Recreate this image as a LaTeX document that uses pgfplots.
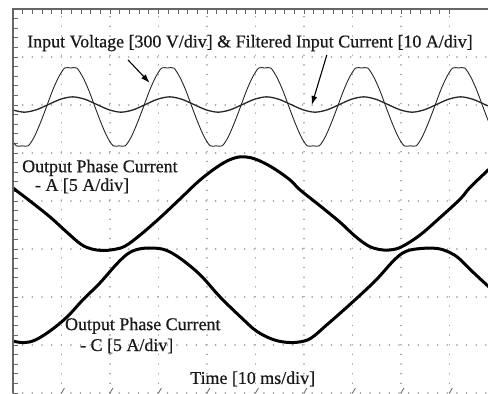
\documentclass[border=0pt]{standalone}
\usepackage{pgfplots}
\pgfplotsset{compat=1.18}
\usepackage{pgfplotstable}
\usepackage{fontspec}
\setmainfont{Liberation Serif}
\newfontfamily\labelfont{Liberation Serif}[FakeBold=0.6]
\usetikzlibrary{arrows.meta}

% Input voltage (x in div, y in div)
\pgfplotstableread{
x y
-0.060 5.34
0.065 5.15
0.190 5.15
0.315 5.15
0.440 5.34
0.565 5.63
0.690 5.96
0.815 6.30
0.940 6.58
1.065 6.77
1.190 6.77
1.315 6.77
1.440 6.58
1.565 6.30
1.690 5.96
1.815 5.63
1.940 5.34
2.065 5.15
2.190 5.15
2.315 5.15
2.440 5.34
2.565 5.63
2.690 5.96
2.815 6.30
2.940 6.58
3.065 6.77
3.190 6.77
3.315 6.77
3.440 6.58
3.565 6.30
3.690 5.96
3.815 5.63
3.940 5.34
4.065 5.15
4.190 5.15
4.315 5.15
4.440 5.34
4.565 5.63
4.690 5.96
4.815 6.30
4.940 6.58
5.065 6.77
5.190 6.77
5.315 6.77
5.440 6.58
5.565 6.30
5.690 5.96
5.815 5.63
5.940 5.34
6.065 5.15
6.190 5.15
6.315 5.15
6.440 5.34
6.565 5.63
6.690 5.96
6.815 6.30
6.940 6.58
7.065 6.77
7.190 6.77
7.315 6.77
7.440 6.58
7.565 6.30
7.690 5.96
7.815 5.63
7.940 5.34
8.065 5.15
8.190 5.15
8.315 5.15
8.440 5.34
8.565 5.63
8.690 5.96
8.815 6.30
8.940 6.58
9.065 6.77
9.190 6.77
9.315 6.77
9.440 6.58
9.565 6.30
9.690 5.96
9.815 5.63
9.940 5.34
}\voltage

% Filtered input current
\pgfplotstableread{
x y
-0.020 5.90
0.230 5.85
0.480 5.90
0.730 6.01
0.980 6.12
1.230 6.17
1.480 6.12
1.730 6.01
1.980 5.90
2.230 5.85
2.480 5.90
2.730 6.01
2.980 6.12
3.230 6.17
3.480 6.12
3.730 6.01
3.980 5.90
4.230 5.85
4.480 5.90
4.730 6.01
4.980 6.12
5.230 6.17
5.480 6.12
5.730 6.01
5.980 5.90
6.230 5.85
6.480 5.90
6.730 6.01
6.980 6.12
7.230 6.17
7.480 6.12
7.730 6.01
7.980 5.90
8.230 5.85
8.480 5.90
8.730 6.01
8.980 6.12
9.230 6.17
9.480 6.12
9.730 6.01
9.980 5.90
}\incurrent

% Output phase current A
\pgfplotstableread{
x y
0.00 4.27
0.35 4.00
0.76 3.67
1.11 3.35
1.40 3.10
1.62 3.00
1.85 2.97
2.08 2.99
2.31 3.06
2.62 3.29
3.03 3.65
3.44 4.04
3.86 4.44
4.27 4.75
4.55 4.89
4.78 4.92
5.03 4.86
5.36 4.69
5.71 4.44
5.92 4.23
6.33 3.90
6.74 3.56
7.05 3.27
7.32 3.07
7.55 2.99
7.78 2.98
8.02 3.05
8.39 3.29
8.80 3.65
9.22 4.04
9.42 4.28
9.77 4.62
9.85 4.70
}\outA

% Output phase current C
\pgfplotstableread{
x y
0.00 1.08
0.22 1.05
0.45 1.10
0.76 1.29
1.11 1.58
1.44 1.94
1.79 2.29
2.14 2.69
2.38 2.91
2.60 3.00
2.87 3.02
3.14 2.98
3.44 2.81
3.86 2.46
4.27 2.00
4.76 1.52
5.02 1.29
5.32 1.13
5.60 1.06
5.88 1.06
6.14 1.14
6.47 1.42
6.82 1.73
7.18 2.06
7.51 2.38
7.86 2.77
8.10 2.95
8.41 3.01
8.75 3.01
9.00 2.93
9.20 2.80
9.44 2.56
9.77 2.25
9.85 2.18
}\outC

\begin{document}
\begin{tikzpicture}
\useasboundingbox (0,0) rectangle (488bp,394bp);
\begin{axis}[
  at={(13bp,1bp)}, anchor=south west,
  scale only axis, width=475bp, height=384bp,
  xmin=0, xmax=9.794, ymin=0, ymax=8,
  xtick={0,...,9}, ytick={0,...,8},
  minor x tick num=4, minor y tick num=4,
  xticklabels={}, yticklabels={},
  xtick pos=right, ytick pos=left,
  tick align=inside,
  major tick length=5bp, minor tick length=5bp,
  every tick/.style={black!60, line width=0.8bp},
  grid=major,
  major grid style={black!38, line width=1.7bp, line cap=round, dash pattern=on 0.01bp off 9.64bp},
  axis line style={draw=none},
  clip mode=individual,
]
\addplot[black!85, line width=0.9bp, smooth, tension=0.5] table {\voltage};
\addplot[black!85, line width=1.3bp, smooth, tension=0.5] table {\incurrent};
\addplot[black, line width=3bp, smooth, tension=0.6] table {\outA};
\addplot[black, line width=3bp, smooth, tension=0.6] table {\outC};

\draw[black!60, line width=1.5bp] (axis cs:0,0) -- (axis cs:0,8) -- (axis cs:9.794,8);
\pgfplotsinvokeforeach{1,...,9}{\draw[black!60, line width=0.8bp] (axis cs:#1,0) -- ++(0,5bp);}

\draw[-{Latex[length=9bp,width=6bp]}, line width=1.1bp] (axis cs:2.37,6.94) -- (axis cs:2.82,6.46);
\draw[-{Latex[length=9bp,width=6bp]}, line width=1.1bp] (axis cs:6.47,7.04) -- (axis cs:6.16,6.00);

\tikzset{lbl/.style={anchor=base west, inner sep=0pt, text=black!90, font=\labelfont\fontsize{18}{20}\selectfont}}
\node[lbl] at (axis cs:0.29,7.20) {Input Voltage [300 V/div] \& Filtered Input Current [10 A/div]};
\node[lbl] at (axis cs:0.186,4.60) {Output Phase Current};
\node[lbl] at (axis cs:0.45,4.21) {- A [5 A/div]};
\node[lbl] at (axis cs:1.07,1.31) {Output Phase Current};
\node[lbl] at (axis cs:1.38,0.875) {- C [5 A/div]};
\node[lbl] at (axis cs:3.65,0.19) {Time [10 ms/div]};
\end{axis}
\end{tikzpicture}
\end{document}
